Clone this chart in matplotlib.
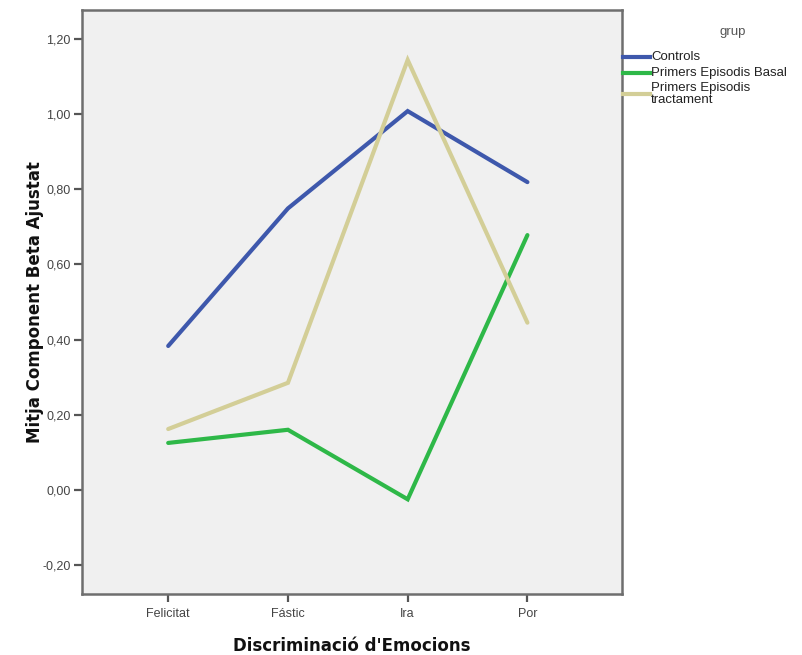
import matplotlib
matplotlib.use("Agg")
import matplotlib.pyplot as plt
from matplotlib.lines import Line2D
from matplotlib.ticker import FuncFormatter

# Mean adjusted beta component by emotion and group
emotions = ["Felicitat", "Fástic", "Ira", "Por"]
groups = ["Controls", "Primers Episodis Basal", "Primers Episodis\ntractament"]
controls = [0.383, 0.749, 1.008, 0.819]
basal = [0.125, 0.160, -0.025, 0.678]
tractament = [0.162, 0.285, 1.144, 0.445]
series = [controls, basal, tractament]
colors = ["#3E58AC", "#2EB848", "#D3CE97"]

yticks = [-0.2, 0.0, 0.2, 0.4, 0.6, 0.8, 1.0, 1.2]

fig = plt.figure(figsize=(8.03, 6.55), dpi=100)
fig.patch.set_facecolor("white")
ax = fig.add_axes([82 / 803, 61 / 655, 540 / 803, 584 / 655])
ax.set_facecolor("#F0F0F0")

x = list(range(len(emotions)))
for vals, col in zip(series, colors):
    ax.plot(x, vals, color=col, lw=3.0, solid_capstyle="round",
            solid_joinstyle="miter")

ax.set_xlim(-0.72, 3.79)
ax.set_ylim(-0.277, 1.277)
ax.set_xticks(x)
ax.set_xticklabels(emotions)
ax.set_yticks(yticks)
ax.yaxis.set_major_formatter(FuncFormatter(lambda v, p: f"{v:.2f}".replace(".", ",")))

for s in ax.spines.values():
    s.set_color("#6E6E6E")
    s.set_linewidth(1.8)
ax.tick_params(axis="both", colors="#555555", width=1.6, length=6,
               labelsize=9, labelcolor="#444444")
ax.tick_params(axis="y", pad=2)
ax.tick_params(axis="x", pad=4)
for lab in ax.get_xticklabels() + ax.get_yticklabels():
    lab.set_family("Liberation Sans")

ax.set_xlabel("Discriminació d'Emocions", fontsize=12, fontweight="bold",
              family="DejaVu Sans", color="#111111", labelpad=12)
ax.set_ylabel("Mitja Component Beta Ajustat", fontsize=12, fontweight="bold",
              family="DejaVu Sans", color="#111111", labelpad=-1)

# Legend placed to the right of the plot area
W, H = 803, 655
fig.text(733 / W, 1 - 32 / H, "grup", fontsize=9.5, color="#555555",
         family="Liberation Sans", ha="center", va="center")
legend_y = [57, 73, 94]
for label, col, yy in zip(groups, colors, legend_y):
    fig.add_artist(Line2D([623 / W, 650 / W], [1 - yy / H, 1 - yy / H],
                          color=col, lw=3.0, transform=fig.transFigure))
    fig.text(651 / W, 1 - yy / H, label, fontsize=9.5, color="#222222",
             family="Liberation Sans", ha="left", va="center",
             linespacing=0.9)

fig.savefig("out.png", dpi=100)
